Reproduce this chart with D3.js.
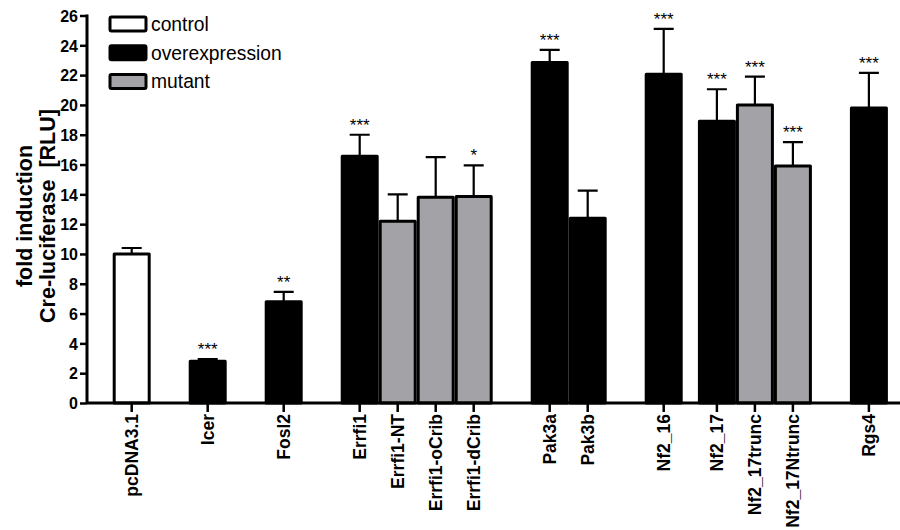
<!DOCTYPE html>
<html><head><meta charset="utf-8">
<script src="https://cdn.jsdelivr.net/npm/d3@7"></script>
<style>body{margin:0;background:#fff}svg{display:block;font-family:"Liberation Sans",Arial,sans-serif}</style>
</head><body>
<svg id="c" width="900" height="530"></svg>
<script>
const categories = ["pcDNA3.1","Icer","Fosl2","Errfi1","Errfi1-NT","Errfi1-oCrib","Errfi1-dCrib","Pak3a","Pak3b","Nf2_16","Nf2_17","Nf2_17trunc","Nf2_17Ntrunc","Rgs4"];
const means = [10.0, 2.8, 6.8, 16.55, 12.2, 13.8, 13.85, 22.85, 12.4, 22.05, 18.9, 20.0, 15.9, 19.8];
const errors = [0.4, 0.15, 0.65, 1.45, 1.8, 2.7, 2.1, 0.85, 1.85, 3.05, 2.15, 1.9, 1.6, 2.35];
const kinds = ["control","overexpression","overexpression","overexpression","mutant","mutant","mutant","overexpression","overexpression","overexpression","overexpression","mutant","mutant","overexpression"];
const stars = ["","***","**","***","","","*","***","","***","***","***","***","***"];
const legendLabels = ["control","overexpression","mutant"];
const yTicks = [0,2,4,6,8,10,12,14,16,18,20,22,24,26];

// layout: slot index of each bar along the axis
const slots = [0, 2, 4, 6, 7, 8, 9, 11, 12, 14, 15.4, 16.4, 17.4, 19.4];

const fills = {control:"#ffffff", overexpression:"#000000", mutant:"#a3a2a7"};
const svg = d3.select("#c");
const y = d3.scaleLinear().domain([0,26]).range([403,15.5]);
const xs = d3.scaleLinear().domain([0,19.4]).range([131.7,868.9]);
const bw = xs(1)-xs(0);
const axX = 87;

// axes
const yAxis = svg.append("g").attr("transform",`translate(${axX},0)`)
  .call(d3.axisLeft(y).tickValues(yTicks).tickSize(7).tickPadding(2).tickFormat(d3.format("d")));
yAxis.select(".domain").attr("stroke","#000").attr("stroke-width",3).attr("d",`M0,${y(26)-1}V${y(0)}`);
yAxis.selectAll(".tick line").attr("stroke","#000").attr("stroke-width",2.5);
yAxis.selectAll(".tick text").attr("font-size",16).attr("font-weight","bold").attr("fill","#000").attr("dy","0.36em");

// bars
const data = categories.map((c,i)=>({c,m:means[i],e:errors[i],k:kinds[i],s:stars[i],slot:slots[i]}));
const g = svg.append("g");
// error bars
g.selectAll(".eb").data(data).join("path").attr("class","eb")
  .attr("d",d=>`M${xs(d.slot)},${y(d.m)}V${y(d.m+d.e)}M${xs(d.slot)-10},${y(d.m+d.e)}H${xs(d.slot)+10}`)
  .attr("stroke","#000").attr("stroke-width",2.2).attr("fill","none");
g.selectAll(".bar").data(data).join("rect").attr("class","bar")
  .attr("x",d=>xs(d.slot)-bw/2+1.5).attr("width",bw-3)
  .attr("y",d=>y(d.m)).attr("height",d=>y(0)-y(d.m))
  .attr("fill",d=>fills[d.k]).attr("stroke","#000").attr("stroke-width",3).attr("stroke-linejoin","round");
g.selectAll(".st").data(data.filter(d=>d.s)).join("text").attr("class","st")
  .attr("x",d=>xs(d.slot)).attr("y",d=>y(d.m+d.e)-4)
  .attr("text-anchor","middle").attr("font-size",17).attr("fill","#000").text(d=>d.s);

// x axis
svg.append("line").attr("x1",axX).attr("x2",900).attr("y1",y(0)).attr("y2",y(0)).attr("stroke","#000").attr("stroke-width",3);
const xt = svg.append("g");
xt.selectAll("line").data(data).join("line")
  .attr("x1",d=>xs(d.slot)).attr("x2",d=>xs(d.slot)).attr("y1",y(0)).attr("y2",y(0)+9)
  .attr("stroke","#000").attr("stroke-width",2.5);
xt.selectAll("text").data(data).join("text")
  .attr("transform",d=>`translate(${xs(d.slot)+6},${y(0)+11}) rotate(-90)`)
  .attr("text-anchor","end").attr("font-size",17.5).attr("font-weight","bold").attr("fill","#000").text(d=>d.c);

// y title
const yt = svg.append("text").attr("transform","translate(0,216) rotate(-90)").attr("text-anchor","middle")
  .attr("font-size",21.5).attr("font-weight","bold").attr("fill","#000");
yt.append("tspan").attr("x",0).attr("y",32).text("fold induction");
yt.append("tspan").attr("x",0).attr("y",55).attr("xml:space","preserve").text("Cre-luciferase  [RLU]");

// legend
const lg = svg.append("g");
legendLabels.forEach((l,i)=>{
  const yy = 17 + i*28.7;
  lg.append("rect").attr("x",110).attr("y",yy).attr("width",36).attr("height",14)
    .attr("fill",fills[l]).attr("stroke","#000").attr("stroke-width",3).attr("rx",1.5);
  lg.append("text").attr("x",151).attr("y",yy+14).attr("font-size",19.3).attr("fill","#000").text(l);
});
</script>
</body></html>
